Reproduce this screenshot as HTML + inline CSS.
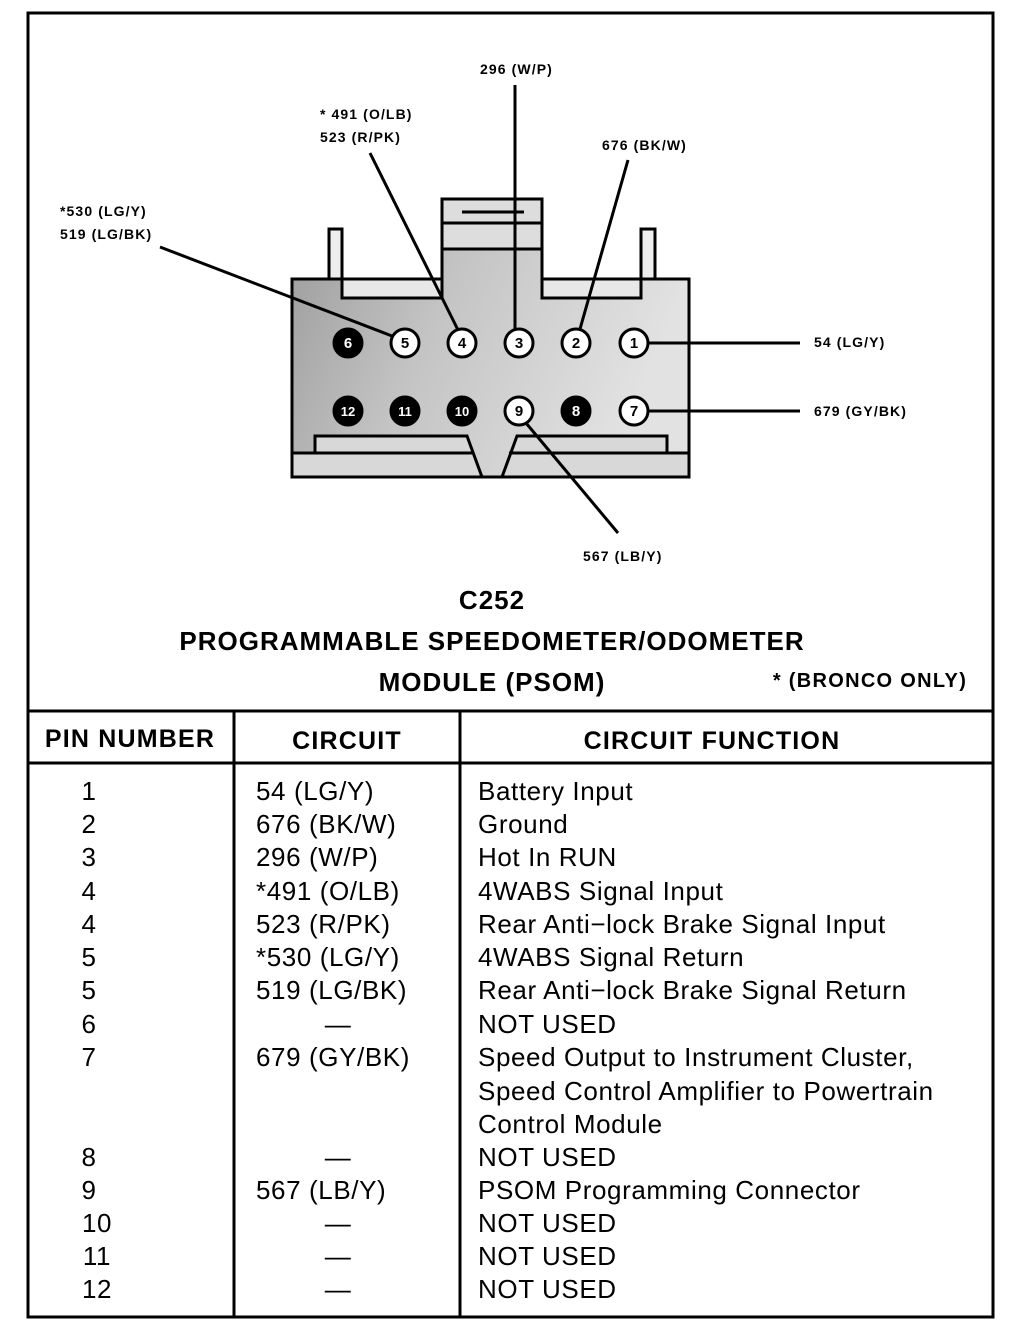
<!DOCTYPE html>
<html><head><style>
body{margin:0;background:#fff;}
svg{display:block;}
text{font-family:"Liberation Sans",Arial,sans-serif;}
</style></head><body>
<svg width="1024" height="1330" viewBox="0 0 1024 1330" xmlns="http://www.w3.org/2000/svg">
<defs>
<linearGradient id="g" x1="0" y1="0" x2="1" y2="0.3">
<stop offset="0" stop-color="#9a9a9a"/><stop offset="0.45" stop-color="#c4c4c4"/><stop offset="1" stop-color="#e2e2e2"/>
</linearGradient>
</defs>
<rect x="0" y="0" width="1024" height="1330" fill="#fff"/>
<rect x="28" y="13" width="965" height="1304" fill="none" stroke="#000" stroke-width="3"/>
<line x1="28" y1="711" x2="993" y2="711" stroke="#000" stroke-width="3"/>
<line x1="28" y1="763" x2="993" y2="763" stroke="#000" stroke-width="3"/>
<line x1="234" y1="711" x2="234" y2="1317" stroke="#000" stroke-width="3"/>
<line x1="460" y1="711" x2="460" y2="1317" stroke="#000" stroke-width="3"/>

<path d="M292,279 H329 V229 H342 V298 H442 V199 H542 V298 H641 V229 H655 V279 H689 V477 H292 Z" fill="url(#g)" stroke="#000" stroke-width="3"/>
<rect x="342" y="279" width="100" height="19" fill="#e8e8e8" stroke="#000" stroke-width="3"/>
<rect x="542" y="279" width="99" height="19" fill="#e8e8e8" stroke="#000" stroke-width="3"/>
<rect x="442" y="199" width="100" height="50" fill="#ddd" stroke="#000" stroke-width="3"/>
<line x1="442" y1="223" x2="542" y2="223" stroke="#000" stroke-width="3"/>
<line x1="462" y1="212" x2="524" y2="212" stroke="#000" stroke-width="3"/>
<rect x="329" y="229" width="13" height="50" fill="#eee" stroke="#000" stroke-width="3"/>
<rect x="641" y="229" width="14" height="50" fill="#eee" stroke="#000" stroke-width="3"/>
<path d="M315,453 V436 H467 L482,477 H292 V453 Z" fill="#d8d8d8" stroke="#000" stroke-width="3"/>
<path d="M667,453 V436 H517 L502,477 H689 V453 Z" fill="#d8d8d8" stroke="#000" stroke-width="3"/>
<line x1="292" y1="453" x2="474" y2="453" stroke="#000" stroke-width="3"/>
<line x1="509" y1="453" x2="689" y2="453" stroke="#000" stroke-width="3"/>

<g stroke="#000" stroke-width="3" fill="none">
<line x1="515" y1="85" x2="515" y2="329"/>
<line x1="370" y1="153" x2="458" y2="330"/>
<line x1="628" y1="160" x2="580" y2="329"/>
<line x1="160" y1="247" x2="392" y2="336"/>
<line x1="648" y1="343" x2="800" y2="343"/>
<line x1="648" y1="411" x2="800" y2="411"/>
<line x1="526" y1="423" x2="618" y2="533"/>
</g>

<g stroke="#000" stroke-width="3">
<circle cx="348" cy="343" r="14" fill="#000"/>
<circle cx="405" cy="343" r="14" fill="#fff"/>
<circle cx="462" cy="343" r="14" fill="#fff"/>
<circle cx="519" cy="343" r="14" fill="#fff"/>
<circle cx="576" cy="343" r="14" fill="#fff"/>
<circle cx="634" cy="343" r="14" fill="#fff"/>
<circle cx="348" cy="411" r="14" fill="#000"/>
<circle cx="405" cy="411" r="14" fill="#000"/>
<circle cx="462" cy="411" r="14" fill="#000"/>
<circle cx="519" cy="411" r="14" fill="#fff"/>
<circle cx="576" cy="411" r="14" fill="#000"/>
<circle cx="634" cy="411" r="14" fill="#fff"/>
</g>
<g font-size="15" font-weight="bold" text-anchor="middle">
<text x="348" y="348" fill="#fff">6</text>
<text x="405" y="348">5</text>
<text x="462" y="348">4</text>
<text x="519" y="348">3</text>
<text x="576" y="348">2</text>
<text x="634" y="348">1</text>
<text x="348" y="416" fill="#fff" font-size="13">12</text>
<text x="405" y="416" fill="#fff" font-size="13">11</text>
<text x="462" y="416" fill="#fff" font-size="13">10</text>
<text x="519" y="416">9</text>
<text x="576" y="416" fill="#fff">8</text>
<text x="634" y="416">7</text>
</g>

<g font-size="14" font-weight="bold" letter-spacing="1.1">
<text x="480" y="74">296 (W/P)</text>
<text x="320" y="119">* 491 (O/LB)</text>
<text x="320" y="142">523 (R/PK)</text>
<text x="602" y="150">676 (BK/W)</text>
<text x="60" y="216">*530 (LG/Y)</text>
<text x="60" y="239">519 (LG/BK)</text>
<text x="814" y="347">54 (LG/Y)</text>
<text x="814" y="416">679 (GY/BK)</text>
<text x="583" y="561">567 (LB/Y)</text>
</g>
<g font-size="26" font-weight="bold" text-anchor="middle" letter-spacing="1">
<text x="492" y="609">C252</text>
<text x="492" y="650">PROGRAMMABLE SPEEDOMETER/ODOMETER</text>
<text x="492" y="691">MODULE (PSOM)</text>
</g>
<text x="870" y="687" font-size="20" font-weight="bold" text-anchor="middle" letter-spacing="1.3">* (BRONCO ONLY)</text>

<g font-size="25" font-weight="bold" text-anchor="middle" letter-spacing="1.2">
<text x="130" y="747">PIN NUMBER</text>
<text x="347" y="749">CIRCUIT</text>
<text x="712" y="749">CIRCUIT FUNCTION</text>
</g>

<g font-size="26" letter-spacing="0.6">
<g text-anchor="middle">
<text x="89" y="800">1</text><text x="89" y="833">2</text><text x="89" y="866">3</text>
<text x="89" y="900">4</text><text x="89" y="933">4</text><text x="89" y="966">5</text>
<text x="89" y="999">5</text><text x="89" y="1033">6</text><text x="89" y="1066">7</text>
<text x="89" y="1166">8</text><text x="89" y="1199">9</text><text x="97" y="1232">10</text>
<text x="97" y="1265">11</text><text x="97" y="1298">12</text>
<text x="338" y="1033">—</text><text x="338" y="1166">—</text><text x="338" y="1232">—</text>
<text x="338" y="1265">—</text><text x="338" y="1298">—</text>
</g>
<text x="256" y="800">54 (LG/Y)</text>
<text x="256" y="833">676 (BK/W)</text>
<text x="256" y="866">296 (W/P)</text>
<text x="256" y="900">*491 (O/LB)</text>
<text x="256" y="933">523 (R/PK)</text>
<text x="256" y="966">*530 (LG/Y)</text>
<text x="256" y="999">519 (LG/BK)</text>
<text x="256" y="1066">679 (GY/BK)</text>
<text x="256" y="1199">567 (LB/Y)</text>

<text x="478" y="800">Battery Input</text>
<text x="478" y="833">Ground</text>
<text x="478" y="866">Hot In RUN</text>
<text x="478" y="900">4WABS Signal Input</text>
<text x="478" y="933">Rear Anti−lock Brake Signal Input</text>
<text x="478" y="966">4WABS Signal Return</text>
<text x="478" y="999">Rear Anti−lock Brake Signal Return</text>
<text x="478" y="1033">NOT USED</text>
<text x="478" y="1066">Speed Output to Instrument Cluster,</text>
<text x="478" y="1100">Speed Control Amplifier to Powertrain</text>
<text x="478" y="1133">Control Module</text>
<text x="478" y="1166">NOT USED</text>
<text x="478" y="1199">PSOM Programming Connector</text>
<text x="478" y="1232">NOT USED</text>
<text x="478" y="1265">NOT USED</text>
<text x="478" y="1298">NOT USED</text>
</g>
</svg>
</body></html>
